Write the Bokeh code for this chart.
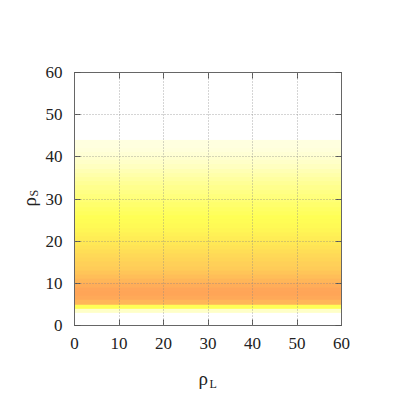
import numpy as np
from bokeh.plotting import figure
from bokeh.models import LinearColorMapper, LinearAxis, Label, FixedTicker, Range1d
from bokeh.embed import file_html
from bokeh.resources import INLINE

# rho_S rows (lower edge) and estimated intensity per row
rho_s_rows = list(range(3, 44))
row_values = [0.14, 0.40, 0.72, 0.80, 0.83, 0.82, 0.78, 0.72, 0.68, 0.65, 0.62,
              0.60, 0.58, 0.56, 0.54, 0.52, 0.50, 0.48, 0.46, 0.44, 0.42, 0.41,
              0.40, 0.38, 0.36, 0.34, 0.32, 0.30, 0.28, 0.26, 0.24, 0.22, 0.20,
              0.18, 0.16, 0.14, 0.12, 0.10, 0.08, 0.07, 0.07]
n_cols = 60
ticks = [0, 10, 20, 30, 40, 50, 60]

# palette
anchors = [0.0, 0.05, 0.15, 0.25, 0.40, 0.50, 0.60, 0.70, 0.82, 1.0]
cols = ["#FFFFFF", "#FFFFE4", "#FFFFC4", "#FFFF90", "#FFFF55", "#FFE855",
        "#FFD058", "#FFBA58", "#FFA658", "#FF9050"]
def h2r(h):
    return [int(h[i:i+2], 16) for i in (1, 3, 5)]
rgb = np.array([h2r(c) for c in cols], dtype=float)
t = np.linspace(0, 1, 256)
palette = []
for v in t:
    r = np.interp(v, anchors, rgb[:, 0]); g = np.interp(v, anchors, rgb[:, 1]); b = np.interp(v, anchors, rgb[:, 2])
    palette.append("#%02x%02x%02x" % (int(round(r)), int(round(g)), int(round(b))))

mapper = LinearColorMapper(palette=palette, low=0, high=1)
img = np.tile(np.array(row_values)[:, None], (1, n_cols))

p = figure(width=412, height=412, output_backend="svg", toolbar_location=None,
           x_range=Range1d(0, 60), y_range=Range1d(0, 60),
           min_border_left=74, min_border_right=71, min_border_top=72, min_border_bottom=87)
p.image(image=[img], x=0, y=rho_s_rows[0], dw=n_cols, dh=len(rho_s_rows), color_mapper=mapper)

font = "Liberation Serif"
for ax in [p.xaxis[0], p.yaxis[0]]:
    ax.ticker = FixedTicker(ticks=ticks)
    ax.major_tick_in = 6
    ax.major_tick_out = 0
    ax.minor_tick_in = 0
    ax.minor_tick_out = 0
    ax.axis_line_color = "#666666"
    ax.major_tick_line_color = "#555555"
    ax.major_label_text_font = font
    ax.major_label_text_font_size = "17px"
    ax.major_label_text_color = "#222222"
    ax.major_label_standoff = 12
for loc in ["right", "above"]:
    ax = LinearAxis(ticker=FixedTicker(ticks=ticks), major_tick_in=6, major_tick_out=0,
                    minor_tick_in=0, minor_tick_out=0, axis_line_color="#666666",
                    major_tick_line_color="#555555",
                    major_label_overrides={tk: "" for tk in ticks})
    p.add_layout(ax, loc)

p.xgrid.ticker = FixedTicker(ticks=ticks)
p.ygrid.ticker = FixedTicker(ticks=ticks)
p.grid.grid_line_color = "#888888"
p.grid.grid_line_dash = "1 2"
p.grid.grid_line_alpha = 0.7
p.grid.level = "overlay"
p.outline_line_color = "#666666"
p.background_fill_color = "white"

# axis labels placed in the side panels
p.add_layout(Label(x=124, y=-16, x_units="screen", y_units="screen", text="ρ",
                   text_font=font, text_font_size="19px", text_color="#222222"), "below")
p.add_layout(Label(x=135, y=-4, x_units="screen", y_units="screen", text="L",
                   text_font=font, text_font_size="12px", text_color="#222222"), "below")
p.add_layout(Label(x=18, y=119, x_units="screen", y_units="screen", text="ρ", angle=np.pi/2,
                   text_font=font, text_font_size="19px", text_color="#222222"), "left")
p.add_layout(Label(x=33, y=129, x_units="screen", y_units="screen", text="S", angle=np.pi/2,
                   text_font=font, text_font_size="12px", text_color="#222222"), "left")

open("out.html", "w").write(file_html(p, INLINE))
